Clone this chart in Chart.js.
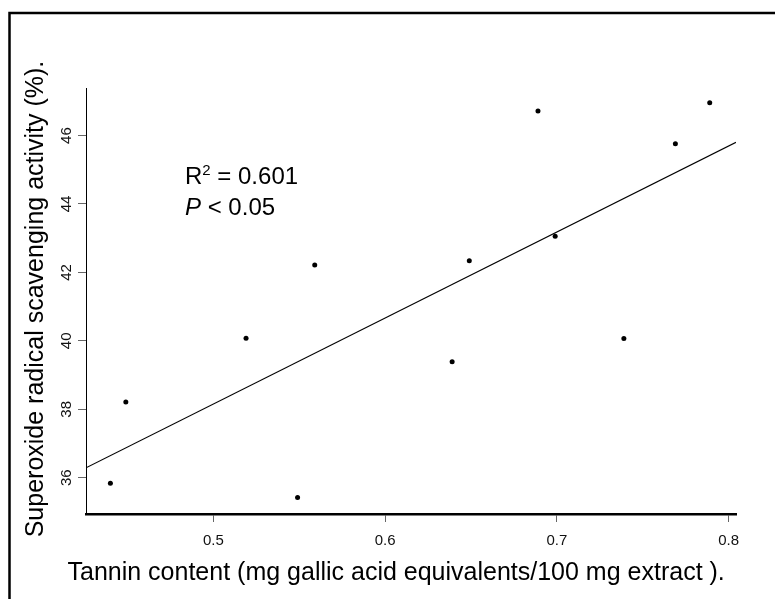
<!DOCTYPE html>
<html>
<head>
<meta charset="utf-8">
<script src="https://cdn.jsdelivr.net/npm/chart.js@4/dist/chart.umd.min.js"></script>
<style>
html,body{margin:0;padding:0;background:#fff;}
#wrap{width:775px;height:599px;}
canvas{display:block;}
</style>
</head>
<body>
<div id="wrap"><canvas id="c" width="775" height="599"></canvas></div>
<script>
// ---- data ----
const tanninContent = [0.440, 0.449, 0.519, 0.549, 0.559, 0.639, 0.649, 0.689, 0.699, 0.739, 0.769, 0.789];
const superoxideActivity = [35.84, 38.21, 40.08, 35.42, 42.22, 39.39, 42.34, 46.72, 43.06, 40.07, 45.76, 46.96];
const fitLineX = [0.4258, 0.8043];
const fitLineY = [36.29, 45.80];
const xTickValues = [0.5, 0.6, 0.7, 0.8];
const xTickLabels = ['0.5', '0.6', '0.7', '0.8'];
const yTickValues = [36, 38, 40, 42, 44, 46];
const yTickLabels = ['36', '38', '40', '42', '44', '46'];
const xAxisTitle = 'Tannin content (mg gallic acid equivalents/100 mg extract ).';
const yAxisTitle = 'Superoxide radical scavenging activity (%).';
const r2Text = '0.601';
const pText = '0.05';

const FAMILY = '"Liberation Sans", Arial, Helvetica, sans-serif';
Chart.defaults.font.family = FAMILY;

const decor = {
  id: 'decor',
  beforeDraw(chart) {
    const ctx = chart.ctx;
    ctx.save();
    ctx.fillStyle = '#fff';
    ctx.fillRect(0, 0, chart.width, chart.height);
    ctx.restore();
  },
  afterDraw(chart) {
    const ctx = chart.ctx;
    const ca = chart.chartArea;
    ctx.save();
    // outer frame (left and top edges visible)
    ctx.strokeStyle = '#000';
    ctx.lineWidth = 2.5;
    ctx.beginPath();
    ctx.moveTo(9.5, chart.height + 2);
    ctx.lineTo(9.5, 13);
    ctx.lineTo(chart.width + 2, 13);
    ctx.stroke();

    ctx.fillStyle = '#000';
    // x axis title
    ctx.font = '25px ' + FAMILY;
    ctx.textAlign = 'left';
    ctx.textBaseline = 'alphabetic';
    ctx.fillText(xAxisTitle, ca.left - 18.5, 580);

    // y axis title
    ctx.save();
    ctx.translate(42.5, (ca.top + ca.bottom) / 2 - 2);
    ctx.rotate(-Math.PI / 2);
    ctx.textAlign = 'center';
    ctx.fillText(yAxisTitle, 0, 0);
    ctx.restore();

    // annotation
    const ax = ca.left + 99;
    const ay1 = ca.top + 96;
    const ay2 = ca.top + 127;
    ctx.textAlign = 'left';
    ctx.font = '24px ' + FAMILY;
    ctx.fillText('R', ax, ay1);
    let w = ctx.measureText('R').width;
    ctx.font = '15px ' + FAMILY;
    ctx.fillText('2', ax + w, ay1 - 9);
    const w2 = ctx.measureText('2').width;
    ctx.font = '24px ' + FAMILY;
    ctx.fillText(' = ' + r2Text, ax + w + w2, ay1);

    ctx.font = 'italic 24px ' + FAMILY;
    ctx.fillText('P', ax, ay2);
    w = ctx.measureText('P').width;
    ctx.font = '24px ' + FAMILY;
    ctx.fillText(' < ' + pText, ax + w, ay2);
    ctx.restore();
  }
};

new Chart(document.getElementById('c'), {
  type: 'scatter',
  data: {
    datasets: [
      {
        type: 'line',
        data: fitLineX.map((x, i) => ({ x: x, y: fitLineY[i] })),
        borderColor: '#000',
        borderWidth: 1.2,
        pointRadius: 0,
        fill: false,
        tension: 0,
        order: 2
      },
      {
        data: tanninContent.map((x, i) => ({ x: x, y: superoxideActivity[i] })),
        backgroundColor: '#000',
        borderColor: '#000',
        pointRadius: 2.5,
        pointBorderWidth: 0,
        order: 1
      }
    ]
  },
  options: {
    responsive: false,
    animation: false,
    devicePixelRatio: 1,
    layout: { padding: { left: 0, top: 88, right: 39, bottom: 0 } },
    plugins: { legend: { display: false }, tooltip: { enabled: false }, title: { display: false } },
    scales: {
      x: {
        type: 'linear',
        position: 'bottom',
        min: 0.4258,
        max: 0.8043,
        afterBuildTicks: s => { s.ticks = xTickValues.map(v => ({ value: v })); },
        afterFit: s => { s.height = 85; s.paddingLeft = 0; s.paddingRight = 0; },
        grid: { display: true, drawOnChartArea: false, drawTicks: true, tickLength: 8, tickColor: '#666', tickWidth: 1 },
        border: { display: true, color: '#000', width: 2.5 },
        ticks: {
          callback: (v, i) => xTickLabels[i],
          color: '#111',
          font: { size: 15 },
          padding: 10,
          minRotation: 0,
          maxRotation: 0,
          autoSkip: false
        },
        title: { display: false }
      },
      y: {
        type: 'linear',
        position: 'left',
        min: 34.94,
        max: 47.39,
        afterBuildTicks: s => { s.ticks = yTickValues.map(v => ({ value: v })); },
        afterFit: s => { s.width = 86; s.paddingTop = 0; s.paddingBottom = 0; },
        grid: { display: true, drawOnChartArea: false, drawTicks: true, tickLength: 8, tickColor: '#666', tickWidth: 1 },
        border: { display: true, color: '#000', width: 1 },
        ticks: {
          callback: (v, i) => yTickLabels[i],
          color: '#111',
          font: { size: 15 },
          padding: 3,
          minRotation: 90,
          maxRotation: 90,
          crossAlign: 'center',
          autoSkip: false
        },
        title: { display: false }
      }
    }
  },
  plugins: [decor]
});
</script>
</body>
</html>
